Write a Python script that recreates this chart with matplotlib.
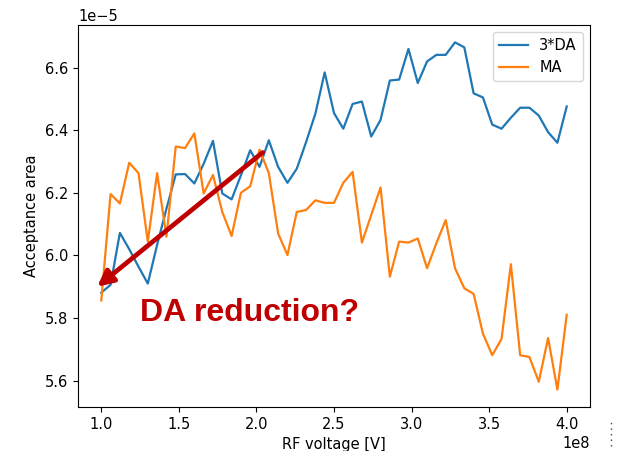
import numpy as np
import matplotlib
matplotlib.use("Agg")
import matplotlib.pyplot as plt
from matplotlib.lines import Line2D

# RF voltage from 1e8 to 4e8 V in 51 steps (step 6e6 V)
rf_voltage = [1.0e8 + 6.0e6 * i for i in range(51)]

da3 = [5.881, 5.906, 6.072, 6.02, 5.964, 5.91, 6.034, 6.149, 6.259, 6.26,
       6.23, 6.293, 6.366, 6.198, 6.179, 6.256, 6.336, 6.283, 6.368, 6.283,
       6.232, 6.277, 6.362, 6.453, 6.585, 6.455, 6.405, 6.484, 6.492, 6.38,
       6.433, 6.559, 6.562, 6.66, 6.551, 6.62, 6.641, 6.641, 6.681, 6.665,
       6.518, 6.505, 6.418, 6.405, 6.44, 6.472, 6.472, 6.447, 6.394, 6.36,
       6.476]

ma = [5.856, 6.196, 6.166, 6.296, 6.263, 6.044, 6.263, 6.06, 6.348, 6.343,
      6.39, 6.198, 6.257, 6.139, 6.062, 6.2, 6.221, 6.338, 6.263, 6.07,
      6.001, 6.139, 6.145, 6.176, 6.168, 6.168, 6.232, 6.267, 6.041, 6.129,
      6.217, 5.932, 6.044, 6.041, 6.054, 5.959, 6.039, 6.113, 5.959, 5.895,
      5.877, 5.75, 5.681, 5.733, 5.972, 5.681, 5.675, 5.596, 5.736, 5.571,
      5.81]

da3 = [v * 1e-5 for v in da3]
ma = [v * 1e-5 for v in ma]

plt.rcParams['font.size'] = 10.5
fig = plt.figure(figsize=(6.23, 4.51), dpi=100)
ax = fig.add_axes([0.1252, 0.0976, 0.947 - 0.1252, 0.9446 - 0.0976])

ax.plot(rf_voltage, da3, color='#1f77b4', lw=1.6, label='3*DA')
ax.plot(rf_voltage, ma, color='#ff7f0e', lw=1.6, label='MA')
ax.set_xlabel('RF voltage [V]')
ax.set_ylabel('Acceptance area')
ax.legend(loc='upper right')

# annotation arrow (dark red) pointing to the low-voltage end
ax.annotate('', xy=(0.974e8, 5.900e-5), xytext=(2.04e8, 6.329e-5),
            arrowprops=dict(arrowstyle='-|>,head_length=0.9,head_width=0.45',
                            color='#C00000', lw=3.4, shrinkA=0, shrinkB=0))
ax.text(1.25e8, 5.865e-5, 'DA reduction?', color='#C00000', fontsize=23,
        fontweight='bold', family='Liberation Sans', va='top', ha='left')

# small dotted marks at the lower right edge of the slide crop
fig.add_artist(Line2D([0.980, 0.980], [0.01, 0.065], transform=fig.transFigure,
                      color='#2a3f8f', lw=1.0, ls=(0, (1, 3))))

fig.savefig('out.png', dpi=100)
